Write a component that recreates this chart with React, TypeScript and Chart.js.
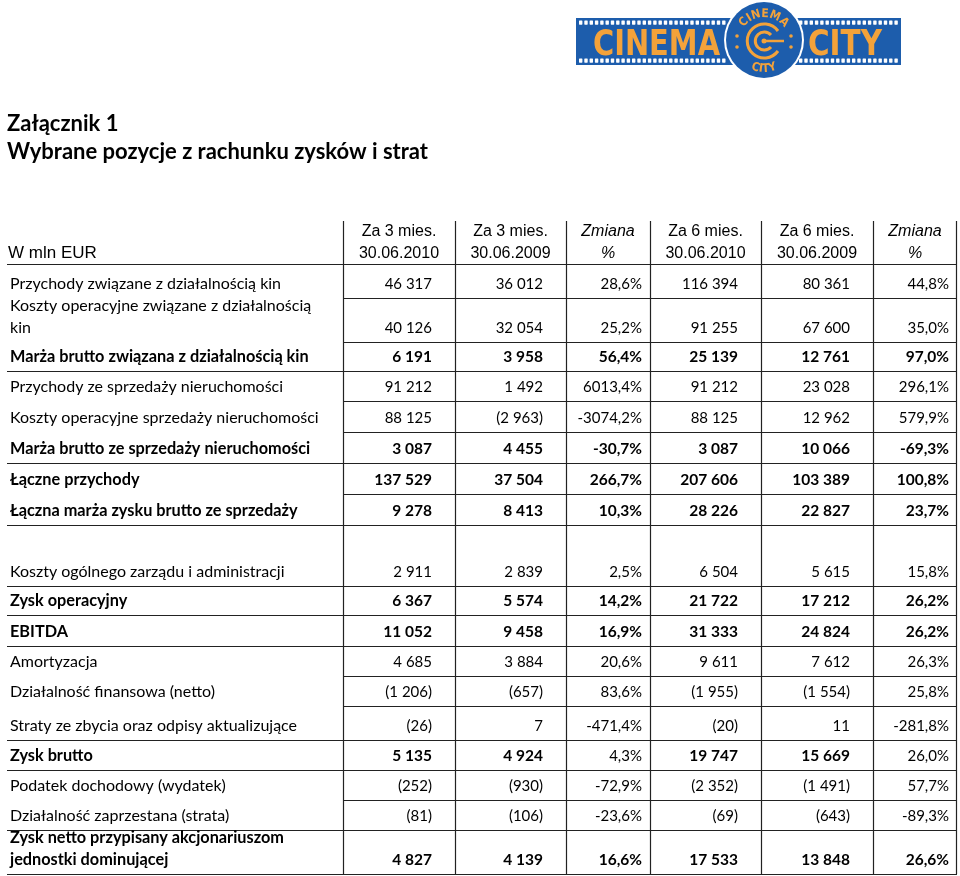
import React, { useEffect, useRef } from "react";
import { Chart, registerables } from "chart.js";

Chart.register(...registerables);

// ---------- DATA ----------
const titleLines = ["Załącznik 1", "Wybrane pozycje z rachunku zysków i strat"];
const unitLabel = "W mln EUR";

const columnHeaders: string[][] = [
  ["Za 3 mies.", "30.06.2010"],
  ["Za 3 mies.", "30.06.2009"],
  ["Zmiana", "%"],
  ["Za 6 mies.", "30.06.2010"],
  ["Za 6 mies.", "30.06.2009"],
  ["Zmiana", "%"],
];
const columnKinds = ["num", "num", "pct", "num", "num", "pct"];

const rowLabels: string[][] = [
  ["Przychody związane z działalnością kin"],
  ["Koszty operacyjne związane z działalnością", "kin"],
  ["Marża brutto związana z działalnością kin"],
  ["Przychody ze sprzedaży nieruchomości"],
  ["Koszty operacyjne sprzedaży nieruchomości"],
  ["Marża brutto ze sprzedaży nieruchomości"],
  ["Łączne przychody"],
  ["Łączna marża zysku brutto ze sprzedaży"],
  [""],
  ["Koszty ogólnego zarządu i administracji"],
  ["Zysk operacyjny"],
  ["EBITDA"],
  ["Amortyzacja"],
  ["Działalność finansowa (netto)"],
  ["Straty ze zbycia oraz odpisy aktualizujące"],
  ["Zysk brutto"],
  ["Podatek dochodowy (wydatek)"],
  ["Działalność zaprzestana (strata)"],
  ["Zysk netto przypisany akcjonariuszom", "jednostki dominującej"],
];

const q3of2010 = [46317, 40126, 6191, 91212, 88125, 3087, 137529, 9278, null, 2911, 6367, 11052, 4685, -1206, -26, 5135, -252, -81, 4827];
const q3of2009 = [36012, 32054, 3958, 1492, -2963, 4455, 37504, 8413, null, 2839, 5574, 9458, 3884, -657, 7, 4924, -930, -106, 4139];
const changeQ = [28.6, 25.2, 56.4, 6013.4, -3074.2, -30.7, 266.7, 10.3, null, 2.5, 14.2, 16.9, 20.6, 83.6, -471.4, 4.3, -72.9, -23.6, 16.6];
const h1of2010 = [116394, 91255, 25139, 91212, 88125, 3087, 207606, 28226, null, 6504, 21722, 31333, 9611, -1955, -20, 19747, -2352, -69, 17533];
const h1of2009 = [80361, 67600, 12761, 23028, 12962, 10066, 103389, 22827, null, 5615, 17212, 24824, 7612, -1554, 11, 15669, -1491, -643, 13848];
const changeH = [44.8, 35.0, 97.0, 296.1, 579.9, -69.3, 100.8, 23.7, null, 15.8, 26.2, 26.2, 26.3, 25.8, -281.8, 26.0, 57.7, -89.3, 26.6];

const valueColumns = [q3of2010, q3of2009, changeQ, h1of2010, h1of2009, changeH];

// ---------- STYLE / LAYOUT ----------
const boldRows = [2, 5, 6, 7, 10, 11, 15, 18];
const regularCellsInBoldRows = [[15, 2], [15, 5]];
const fullWidthRules = [2, 5, 7, 9, 10, 11, 14, 15, 17, 18];
const dataOnlyRules = [0, 1, 3, 4, 6, 12, 13, 16];

const colWidths = [336, 112, 111, 84, 111, 112, 84];
const headerHeight = 44;
const rowHeights = [34, 44, 29, 30, 31, 31, 31, 31, 31, 30, 29, 31, 30, 30, 34, 30, 30, 30, 44];

const colEdges = colWidths.reduce((a, w) => [...a, a[a.length - 1] + w], [0]);
const rowEdges = [headerHeight, ...rowHeights].reduce((a, h) => [...a, a[a.length - 1] + h], [0]);
const totalW = colEdges[colEdges.length - 1];
const totalH = rowEdges[rowEdges.length - 1];

const BODY_FONT = "Lato";
const HEAD_FONT = '"Liberation Sans", Arial, sans-serif';
const LINE_COLOR = "#222";

const fmtNum = (v: number) => {
  const s = Math.abs(v).toString().replace(/\B(?=(\d{3})+(?!\d))/g, " ");
  return v < 0 ? `(${s})` : s;
};
const fmtPct = (v: number) => v.toFixed(1).replace(".", ",") + "%";

const tablePlugin = {
  id: "tableText",
  afterDatasetsDraw(chart: any) {
    const { ctx, scales } = chart;
    const px = (v: number) => scales.x.getPixelForValue(v);
    const py = (v: number) => scales.y.getPixelForValue(v);
    const crisp = (v: number) => Math.round(v) + 0.5;

    ctx.save();
    ctx.strokeStyle = LINE_COLOR;
    ctx.lineWidth = 1.2;
    const hline = (yv: number, full: boolean) => {
      const y = crisp(py(yv));
      ctx.beginPath();
      ctx.moveTo(full ? px(0) : px(colEdges[1]), y);
      ctx.lineTo(px(totalW), y);
      ctx.stroke();
    };
    hline(rowEdges[1], true);
    fullWidthRules.forEach((r) => hline(rowEdges[r + 2], true));
    dataOnlyRules.forEach((r) => hline(rowEdges[r + 2], false));
    for (let c = 1; c < colEdges.length; c++) {
      const x = crisp(px(colEdges[c])) - (c === colEdges.length - 1 ? 1 : 0);
      ctx.beginPath();
      ctx.moveTo(x, py(0) + 1);
      ctx.lineTo(x, py(totalH));
      ctx.stroke();
    }

    ctx.fillStyle = "#000";
    ctx.textBaseline = "alphabetic";
    const headBottom = py(rowEdges[1]);
    ctx.font = `17px ${HEAD_FONT}`;
    ctx.textAlign = "left";
    ctx.fillText(unitLabel, px(0) + 1, headBottom - 6);
    columnHeaders.forEach((lines, c) => {
      const cx = (px(colEdges[c + 1]) + px(colEdges[c + 2])) / 2;
      const italic = columnKinds[c] === "pct" ? "italic " : "";
      ctx.font = `${italic}16px ${HEAD_FONT}`;
      ctx.textAlign = "center";
      ctx.fillText(lines[0], cx, headBottom - 28);
      ctx.fillText(lines[1], cx, headBottom - 6);
    });

    rowLabels.forEach((lines, r) => {
      const bottom = py(rowEdges[r + 2]);
      const bold = boldRows.includes(r);
      ctx.font = `${bold ? "bold 16.3px" : "16px"} ${BODY_FONT}`;
      ctx.textAlign = "left";
      lines.forEach((t, i) => {
        ctx.fillText(t, px(0) + 3, bottom - 9 - (lines.length - 1 - i) * 22);
      });
    });

    chart.data.datasets.forEach((ds: any, c: number) => {
      const meta = chart.getDatasetMeta(c);
      const pad = columnKinds[c] === "pct" ? 8 : 23;
      ds.data.forEach((item: any, i: number) => {
        const el = meta.data[i];
        if (!el) return;
        const r = item.row;
        const v = valueColumns[c][r] as number;
        const isBold = boldRows.includes(r) && !regularCellsInBoldRows.some(([rr, cc]) => rr === r && cc === c);
        ctx.font = `${isBold ? "bold 15.5px" : "15px"} ${BODY_FONT}`;
        ctx.textAlign = "right";
        const txt = columnKinds[c] === "pct" ? fmtPct(v) : fmtNum(v);
        ctx.fillText(txt, el.x - pad, el.y - 9);
      });
    });
    ctx.restore();
  },
};

const BLUE = "#1d5dac";
const ORANGE = "#f3a23a";

function Logo() {
  const holes = (x0: number, x1: number) => {
    const xs: number[] = [];
    for (let x = x0; x < x1; x += 5.3) xs.push(x);
    return xs;
  };
  const hx = [...holes(579, 727), ...holes(799, 898)];
  return (
    <svg
      style={{ position: "absolute", left: 570, top: 0 }}
      width={340}
      height={82}
      viewBox="570 0 340 82"
    >
      <rect x={576} y={18} width={325} height={47} fill={BLUE} />
      {hx.map((x, i) => (
        <rect key={"t" + i} x={x} y={20.5} width={3.4} height={4.2} rx={0.6} fill="#fff" />
      ))}
      {hx.map((x, i) => (
        <rect key={"b" + i} x={x} y={58.5} width={3.4} height={4.2} rx={0.6} fill="#fff" />
      ))}
      <text
        x={593}
        y={55}
        fontFamily='"DejaVu Sans Condensed", "DejaVu Sans", sans-serif'
        fontWeight="bold"
        fontSize={36}
        fill={ORANGE}
        textLength={127}
        lengthAdjust="spacingAndGlyphs"
      >
        CINEMA
      </text>
      <text
        x={808}
        y={55}
        fontFamily='"DejaVu Sans Condensed", "DejaVu Sans", sans-serif'
        fontWeight="bold"
        fontSize={36}
        fill={ORANGE}
        textLength={74}
        lengthAdjust="spacingAndGlyphs"
      >
        CITY
      </text>
      <circle cx={764} cy={40} r={40} fill="#fff" />
      <circle cx={764} cy={40} r={38} fill={BLUE} />
      <path id="ccArcTop" d="M 739 42 A 25 25 0 0 1 789 42" fill="none" />
      <path id="ccArcBot" d="M 734 42 A 30 30 0 0 0 794 42" fill="none" />
      <text fontFamily='"DejaVu Sans Condensed", sans-serif' fontWeight="bold" fontSize={12} fill={ORANGE}>
        <textPath href="#ccArcTop" startOffset="50%" textAnchor="middle">CINEMA</textPath>
      </text>
      <text fontFamily='"DejaVu Sans Condensed", sans-serif' fontWeight="bold" fontSize={12} fill={ORANGE}>
        <textPath href="#ccArcBot" startOffset="50%" textAnchor="middle">CITY</textPath>
      </text>
      <path d="M 778 31 A 17 17 0 1 0 778 51" fill="none" stroke={ORANGE} strokeWidth={3} />
      <path d="M 771 35 A 9 9 0 1 0 771 47" fill="none" stroke={ORANGE} strokeWidth={3} />
      <line x1={764} y1={41} x2={784} y2={41} stroke={ORANGE} strokeWidth={2.5} />
      <circle cx={764} cy={41} r={2.5} fill={ORANGE} />
      <circle cx={737} cy={36} r={1.8} fill={ORANGE} />
      <circle cx={737} cy={47} r={1.8} fill={ORANGE} />
      <circle cx={791} cy={36} r={1.8} fill={ORANGE} />
      <circle cx={791} cy={47} r={1.8} fill={ORANGE} />
    </svg>
  );
}

export default function App() {
  const canvasRef = useRef<HTMLCanvasElement | null>(null);

  useEffect(() => {
    if (!canvasRef.current) return;
    const datasets = valueColumns.map((vals, c) => ({
      label: columnHeaders[c].join(" "),
      data: vals
        .map((v, r) => (v == null ? null : { x: colEdges[c + 2], y: rowEdges[r + 2], row: r }))
        .filter((d) => d !== null) as any[],
      pointRadius: 0,
      pointHoverRadius: 0,
      showLine: false,
    }));
    const chart = new Chart(canvasRef.current, {
      type: "scatter",
      data: { datasets },
      options: {
        animation: false,
        responsive: true,
        maintainAspectRatio: false,
        events: [],
        layout: { padding: { left: 7, right: 3, top: 0, bottom: 2 } },
        plugins: {
          legend: { display: false },
          tooltip: { enabled: false },
          title: {
            display: true,
            text: titleLines,
            align: "start",
            color: "#000",
            font: { family: BODY_FONT, size: 22, weight: "bold", lineHeight: 1.273 },
            padding: { top: 110, bottom: 54 },
          },
        },
        scales: {
          x: { type: "linear", display: false, min: 0, max: totalW },
          y: { type: "linear", display: false, min: 0, max: totalH, reverse: true },
        },
      },
      plugins: [tablePlugin],
    });
    return () => chart.destroy();
  }, []);

  return (
    <div style={{ position: "absolute", left: 0, top: 0, width: 960, height: 876, background: "#fff" }}>
      <canvas ref={canvasRef} />
      <Logo />
    </div>
  );
}
